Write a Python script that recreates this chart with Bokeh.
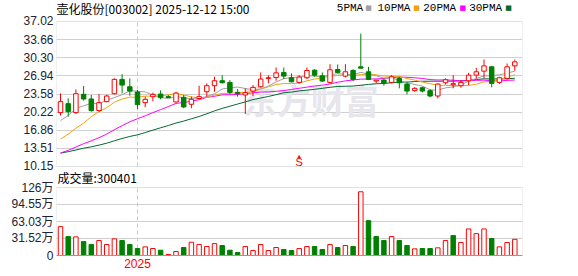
from bokeh.plotting import figure
from bokeh.models import Range1d, FixedTicker, Label, ColumnDataSource, BoxAnnotation
from bokeh.embed import file_html
from bokeh.resources import INLINE

# ---------------- data (weekly candles) ----------------
opens = [20.14, 21.80, 20.14, 23.52, 22.66, 20.51, 22.17, 23.64, 26.29, 24.93,
         23.95, 21.98, 23.08, 23.58, 23.10, 22.10, 22.97, 21.68, 22.75, 24.01,
         25.12, 26.04, 25.73, 23.89, 23.40, 24.13, 24.93, 26.47, 26.65, 27.58,
         26.60, 25.73, 26.60, 28.00, 26.96, 25.73, 28.13, 26.90, 27.94, 28.62,
         27.70, 25.98, 26.16, 25.73, 26.47, 25.42, 24.25, 24.75, 24.20, 23.21,
         25.67, 25.30, 25.12, 26.04, 27.08, 27.82, 28.62, 25.73, 26.47, 28.80]
highs = [23.70, 22.78, 24.44, 25.06, 23.40, 23.58, 23.46, 26.47, 27.27, 26.47,
         24.32, 23.09, 23.83, 24.26, 23.40, 24.00, 23.40, 23.09, 25.12, 25.55,
         26.78, 27.08, 26.16, 24.50, 24.63, 25.24, 27.58, 27.08, 28.50, 28.50,
         27.39, 27.08, 28.50, 28.19, 27.58, 29.11, 29.05, 29.11, 28.19, 34.77,
         28.62, 26.20, 26.47, 27.08, 26.78, 25.85, 24.85, 24.93, 24.44, 25.55,
         26.47, 27.08, 26.16, 27.51, 28.43, 29.97, 28.80, 26.78, 29.23, 29.97]
lows = [19.59, 19.40, 19.89, 22.35, 20.32, 20.32, 22.05, 23.52, 23.70, 23.27,
        20.82, 21.12, 22.23, 22.60, 22.85, 22.00, 20.94, 20.94, 22.66, 23.09,
        24.01, 25.55, 23.58, 23.09, 19.89, 23.21, 24.75, 25.55, 26.04, 26.35,
        25.73, 25.55, 26.35, 26.78, 25.85, 25.55, 27.39, 26.65, 25.98, 28.37,
        26.16, 25.55, 25.12, 25.55, 24.63, 23.52, 24.00, 23.89, 22.97, 22.78,
        25.36, 24.63, 24.75, 25.24, 26.47, 26.47, 24.81, 25.42, 26.29, 27.88]
closes = [22.17, 20.30, 23.64, 22.66, 20.51, 21.98, 23.21, 26.29, 25.24, 24.13,
          21.61, 22.60, 23.52, 22.90, 22.95, 23.75, 21.19, 22.60, 23.10, 25.12,
          26.04, 25.67, 23.89, 23.64, 23.83, 24.81, 26.35, 26.60, 27.51, 26.90,
          25.85, 26.72, 27.94, 27.08, 25.98, 28.07, 27.58, 27.70, 26.29, 28.37,
          26.29, 26.16, 25.55, 26.78, 25.67, 24.13, 24.63, 24.13, 23.21, 25.42,
          26.22, 25.50, 25.73, 27.08, 27.70, 28.80, 25.55, 26.60, 28.62, 29.54]
ma5 = [18.66, 19.60, 20.90, 21.40, 21.86, 21.82, 22.40, 22.93, 23.45, 24.17,
       24.10, 23.97, 23.42, 22.95, 22.72, 23.14, 22.86, 22.68, 22.72, 23.15,
       23.61, 24.51, 24.76, 24.87, 24.61, 24.37, 24.50, 25.05, 25.82, 26.43,
       26.64, 26.72, 26.98, 26.90, 26.71, 27.16, 27.33, 27.28, 27.12, 27.60,
       27.25, 26.96, 26.53, 26.63, 26.09, 25.66, 25.35, 25.07, 24.35, 24.30,
       24.72, 24.90, 25.22, 25.99, 26.45, 26.96, 26.97, 27.15, 27.45, 27.82]
ma10 = [15.22, 16.15, 17.25, 18.17, 19.40, 20.32, 21.06, 22.05, 22.66, 23.01,
        22.96, 23.19, 23.18, 23.20, 23.45, 23.63, 23.42, 23.05, 22.84, 22.94,
        23.38, 23.69, 23.73, 23.80, 23.88, 23.99, 24.51, 24.91, 25.35, 25.52,
        25.51, 25.61, 26.02, 26.36, 26.57, 26.90, 27.02, 27.13, 27.01, 27.16,
        27.20, 27.15, 26.91, 26.88, 26.85, 26.45, 26.16, 25.80, 25.49, 25.20,
        25.19, 25.12, 25.14, 25.17, 25.38, 25.84, 25.93, 26.18, 26.72, 27.13]
ma20 = [12.64, 13.15, 13.75, 14.38, 14.90, 15.49, 16.15, 16.96, 17.72, 18.43,
        19.00, 19.54, 20.13, 20.69, 21.24, 21.84, 22.01, 22.25, 22.52, 22.97,
        23.16, 23.43, 23.44, 23.49, 23.66, 23.80, 23.95, 23.97, 24.08, 24.22,
        24.43, 24.64, 24.86, 25.07, 25.23, 25.44, 25.76, 26.02, 26.18, 26.34,
        26.35, 26.38, 26.46, 26.62, 26.71, 26.68, 26.59, 26.47, 26.25, 26.18,
        26.20, 26.14, 26.02, 26.02, 26.11, 26.15, 26.05, 25.99, 26.11, 26.17]
ma30 = [12.64, 12.90, 13.21, 13.54, 13.80, 14.11, 14.47, 14.92, 15.34, 15.72,
        16.02, 16.44, 16.89, 17.32, 17.74, 18.20, 18.57, 18.99, 19.42, 19.92,
        20.46, 20.92, 21.32, 21.72, 22.12, 22.55, 22.84, 23.13, 23.46, 23.82,
        23.94, 24.16, 24.30, 24.45, 24.63, 24.83, 24.98, 25.02, 25.06, 25.20,
        25.36, 25.48, 25.54, 25.67, 25.77, 25.78, 25.90, 25.95, 25.95, 25.96,
        25.97, 25.96, 26.02, 26.14, 26.27, 26.40, 26.37, 26.37, 26.41, 26.50]
volumes = [53.5, 35.1, 34.5, 25.8, 20.3, 27.7, 20.3, 30.8, 27.7, 20.3,
           12.9, 16.0, 12.9, 9.8, 1.8, 7.4, 14.8, 24.6, 20.3, 16.6,
           22.1, 18.5, 9.8, 5.5, 16.6, 9.2, 20.3, 9.2, 14.8, 11.1,
           9.2, 12.9, 16.6, 16.6, 11.1, 20.3, 14.8, 18.5, 16.6, 118.1,
           64.6, 35.1, 27.7, 35.1, 27.7, 18.5, 12.3, 12.9, 12.9, 14.2,
           27.7, 36.9, 24.0, 49.2, 40.6, 49.2, 31.4, 16.0, 24.0, 30.04]
price_ticks = [10.15, 13.51, 16.86, 20.22, 23.58, 26.94, 30.30, 33.66, 37.02]
vol_ticks = [0, 31.52, 63.03, 94.55, 126.06]
vol_tick_labels = ["0", "31.52万", "63.03万", "94.55万", "126万"]
year_index = 10
year_label = "2025"
signal_index = 31
title_text = "壶化股份[003002] 2025-12-12 15:00"
vol_text = "成交量:300401"
ma_names = ["5PMA", "10PMA", "20PMA", "30PMA"]

RED = "#ff0000"
GREEN = "#008000"
MA_COLORS = ["#a0a0a0", "#f2a20c", "#ff00ff", "#006b2f"]
FRAME = "#999999"
GRID = "#d0d0d0"
LABEL_COLOR = "#222233"
LABEL_FONT = "'Liberation Sans', 'Noto Sans CJK SC'"

n = len(closes)
xs = list(range(n))
up = [c >= o for o, c in zip(opens, closes)]
vol_up = [True] + [closes[i] >= closes[i - 1] for i in range(1, n)]

# one frame holds both panels: price range on the main scale, volume on an extra scale
x_start, x_end = -0.52, 60.0
price_range = Range1d(-6.343, 40.911)
vol_range = Range1d(0, 472.73)


def vol_to_price(v):
    return price_range.start + (v - vol_range.start) * (price_range.end - price_range.start) / (vol_range.end - vol_range.start)


p = figure(width=578, height=276, x_range=Range1d(x_start, x_end), y_range=price_range,
           extra_y_ranges={"vol": vol_range},
           output_backend="svg", toolbar_location=None,
           min_border_left=56, min_border_right=56, min_border_top=0, min_border_bottom=21,
           outline_line_color=None, background_fill_color="white", border_fill_color="white")
p.xgrid.visible = False

vol_tick_pos = [vol_to_price(v) for v in vol_ticks]
all_ticks = price_ticks + vol_tick_pos
overrides = {t: "%.2f" % t for t in price_ticks}
overrides.update({t: s for t, s in zip(vol_tick_pos, vol_tick_labels)})

p.ygrid.ticker = FixedTicker(ticks=price_ticks[1:-1] + vol_tick_pos[1:-1])
p.ygrid.grid_line_color = GRID

ya = p.yaxis[0]
ya.ticker = FixedTicker(ticks=all_ticks)
ya.major_label_overrides = overrides
ya.axis_line_color = None
ya.major_tick_line_color = None
ya.minor_tick_line_color = None
ya.major_tick_out = 0
ya.major_tick_in = 0
ya.major_label_standoff = 3
ya.major_label_text_font = LABEL_FONT
ya.major_label_text_font_size = "12px"
ya.major_label_text_color = LABEL_COLOR

xa = p.xaxis[0]
xa.ticker = FixedTicker(ticks=[year_index])
xa.major_label_overrides = {year_index: year_label}
xa.axis_line_color = FRAME
xa.major_tick_line_color = None
xa.minor_tick_line_color = None
xa.major_tick_out = 0
xa.major_tick_in = 0
xa.major_label_standoff = 3
xa.major_label_text_font = "Liberation Sans"
xa.major_label_text_font_size = "12px"
xa.major_label_text_color = RED

# panel frames
p.add_layout(BoxAnnotation(left=x_start, right=x_end, bottom=price_ticks[0], top=price_ticks[-1],
                           fill_alpha=0, line_color=FRAME, line_width=1, level="underlay"))
p.add_layout(BoxAnnotation(left=x_start, right=x_end, bottom=vol_ticks[0], top=vol_ticks[-1],
                           y_range_name="vol", fill_alpha=0, line_color=FRAME, line_width=1,
                           level="underlay"))

# watermark
p.add_layout(Label(x=32.5, y=22.6, text="东方财富", text_font="Noto Sans CJK SC",
                   text_font_size="34px", text_font_style="bold", text_color="#e6e6ec",
                   text_align="center", text_baseline="middle", level="underlay"))

# year separator (dashed) in both panels
p.segment(x0=[year_index], y0=[price_ticks[0]], x1=[year_index], y1=[price_ticks[-1]],
          line_color="#c8c8c8", line_dash="4 3", line_width=1)
p.segment(x0=[year_index], y0=[vol_ticks[0]], x1=[year_index], y1=[vol_ticks[-1]],
          y_range_name="vol", line_color="#c8c8c8", line_dash="4 3", line_width=1)

# moving averages
for vals, col in zip([ma30, ma20, ma10, ma5], MA_COLORS[::-1]):
    p.line(xs, vals, line_color=col, line_width=1)

src = ColumnDataSource(dict(
    x=xs, o=opens, h=highs, l=lows, c=closes,
    top=[max(o, c) for o, c in zip(opens, closes)],
    bot=[min(o, c) for o, c in zip(opens, closes)],
    col=[RED if u else GREEN for u in up],
    fill=["white" if u else GREEN for u in up],
))
p.segment(x0="x", y0="h", x1="x", y1="l", line_color="col", line_width=1, source=src)
p.vbar(x="x", width=0.58, top="top", bottom="bot", fill_color="fill",
       line_color="col", line_width=1, source=src)

vsrc = ColumnDataSource(dict(
    x=xs, v=volumes,
    col=[RED if u else GREEN for u in vol_up],
    fill=["white" if u else GREEN for u in vol_up],
))
p.vbar(x="x", width=0.58, top="v", bottom=0, fill_color="fill", line_color="col",
       line_width=1, source=vsrc, y_range_name="vol")

# title and legend
label_y = 39.43
p.add_layout(Label(x=x_start, y=label_y, text=title_text, text_font="Noto Sans CJK SC",
                   text_font_size="12px", text_color="#000000", text_baseline="middle"))
leg_text_x = [39.31, 45.45, 51.39, 57.36]
leg_box_x = [40.0, 46.23, 52.25, 58.18]
for name, col, tx, bx in zip(ma_names, MA_COLORS, leg_text_x, leg_box_x):
    p.add_layout(Label(x=tx, y=label_y, text=name, text_font="Liberation Mono",
                       text_font_size="11px", text_color="#000000", text_align="right",
                       text_baseline="middle"))
    p.add_layout(Label(x=bx, y=label_y + 0.15, text="■", text_font="DejaVu Sans",
                       text_font_size="7px", text_color=col, text_align="center",
                       text_baseline="middle"))

# buy signal marker
p.add_layout(Label(x=signal_index, y=12.1, text="▲", text_font="DejaVu Sans",
                   text_font_size="5px", text_color=RED, text_align="center",
                   text_baseline="middle"))
p.add_layout(Label(x=signal_index, y=11.0, text="S", text_font="Liberation Sans",
                   text_font_size="11px", text_color=RED, text_align="center",
                   text_baseline="middle"))

# volume caption
p.add_layout(Label(x=x_start + 0.13, y=8.02, text=vol_text, text_font="Noto Sans CJK SC",
                   text_font_size="12px", text_color="#000000", text_baseline="middle"))

open("out.html", "w").write(file_html(p, INLINE))
